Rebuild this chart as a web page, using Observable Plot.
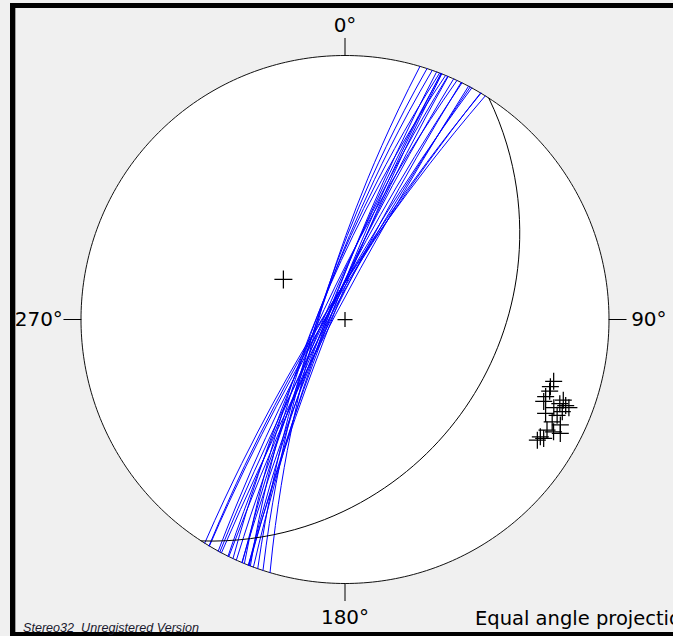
<!DOCTYPE html>
<html><head><meta charset="utf-8">
<script src="https://cdn.jsdelivr.net/npm/d3@7"></script>
<script src="https://cdn.jsdelivr.net/npm/@observablehq/plot@0.6"></script>
<style>
html,body{margin:0;padding:0;background:#f0f0f0;}
#wrap{position:relative;width:673px;height:636px;overflow:hidden;background:#f0f0f0;font-family:"DejaVu Sans",sans-serif;}
#chart{position:absolute;left:0;top:0;}
.bar{position:absolute;background:#000;}
</style></head><body>
<div id="wrap">
  <div id="chart"></div>
  <div class="bar" style="left:10px;top:3px;width:663px;height:5px"></div>
  <div class="bar" style="left:10px;top:3px;width:5px;height:633px"></div>
  <div style="position:absolute;left:15px;top:8px;width:1px;height:624px;background:#a0a0a0"></div>
  <div class="bar" style="left:10px;top:632px;width:663px;height:4px"></div>
  <div id="cap" style="position:absolute;left:475px;top:607px;font-size:19.5px;white-space:nowrap;color:#000">Equal angle projection</div>
  <div id="ver" style="position:absolute;left:23px;top:621px;font:italic 12.6px 'Liberation Sans',Arial,sans-serif;white-space:nowrap;color:#1a1a2e">Stereo32&nbsp; Unregistered Version</div>
</div>
<script>
// Poles to planes (trend, plunge in degrees), lower hemisphere
const poleTrend  = [106.5,108.1,109.3,111.0,112.4,110.3,111.4,111.3,112.9,111.5,115.1,114.3,113.0,116.3,116.1,118.7,118.3,121.0,122.1,120.9,117.9];
const polePlunge = [11.0,11.4,11.2,11.7,11.7,7.2,7.7,6.2,8.7,5.3,10.0,7.2,6.4,7.6,5.5,7.8,6.2,8.4,8.6,7.5,4.6];
// Single reference pole (black great circle)
const refTrend  = [303.0];
const refPlunge = [58.9];
// Direction tick labels
const dirAzimuths = [0, 90, 180, 270];
const dirLabels   = ["0°", "90°", "180°", "270°"];

const poles = poleTrend.map((t, i) => ({trend: t, plunge: polePlunge[i]}));
const refPoles = refTrend.map((t, i) => ({trend: t, plunge: refPlunge[i]}));
const center = [{trend: 0, plunge: 90}];

// Great circle (plane) of a pole: strike point -> dip line -> opposite strike point
const planeOf = (d) => ({type: "LineString", coordinates: [[d.trend - 90, 0], [d.trend + 180, -(90 - d.plunge)], [d.trend + 90, 0]]});
const primitive = d3.geoCircle().center([0, -90]).radius(90).precision(1)();
const tickLen = 3.6;
const ticks = dirAzimuths.map(a => ({type: "LineString", coordinates: [[a, 0], [a, tickLen]]}));

const cross = {
  draw(ctx, size) {
    const r = Math.sqrt(size / Math.PI);
    ctx.moveTo(-r, 0); ctx.lineTo(r, 0);
    ctx.moveTo(0, -r); ctx.lineTo(0, r);
  }
};

const labelStyle = [
  {lineAnchor: "bottom", dy: -6},
  {textAnchor: "start", dx: 5},
  {lineAnchor: "top", dy: 9},
  {textAnchor: "end", dx: -1}
];

const plot = Plot.plot({
  width: 673, height: 636,
  marginLeft: 80.5, marginRight: 64.5, marginTop: 55, marginBottom: 53,
  projection: {type: () => d3.geoStereographic().rotate([0, 90]).precision(0.1), domain: primitive, clip: false},
  style: {background: "transparent", overflow: "visible"},
  marks: [
    Plot.geo([primitive], {fill: "white", stroke: "#111", strokeWidth: 1}),
    Plot.geo(ticks, {stroke: "black", strokeWidth: 1}),
    Plot.geo(poles.map(planeOf), {stroke: "#0000ff", strokeWidth: 1, fill: "none"}),
    Plot.geo(refPoles.map(planeOf), {stroke: "black", strokeWidth: 1, fill: "none"}),
    Plot.dot(poles, {x: "trend", y: d => -d.plunge, symbol: cross, r: 8.5, stroke: "black", fill: "none", strokeWidth: 1.25}),
    Plot.dot(refPoles, {x: "trend", y: d => -d.plunge, symbol: cross, r: 9, stroke: "black", fill: "none", strokeWidth: 1.25}),
    Plot.dot(center, {x: "trend", y: d => -d.plunge, symbol: cross, r: 7.5, stroke: "black", fill: "none", strokeWidth: 1.25}),
    ...dirAzimuths.map((a, i) => Plot.text([dirLabels[i]], {
      x: () => a, y: () => tickLen, text: d => d,
      fontSize: 20, fontFamily: "DejaVu Sans", fill: "black", ...labelStyle[i]
    }))
  ]
});
document.getElementById("chart").appendChild(plot);
</script>
</body></html>
